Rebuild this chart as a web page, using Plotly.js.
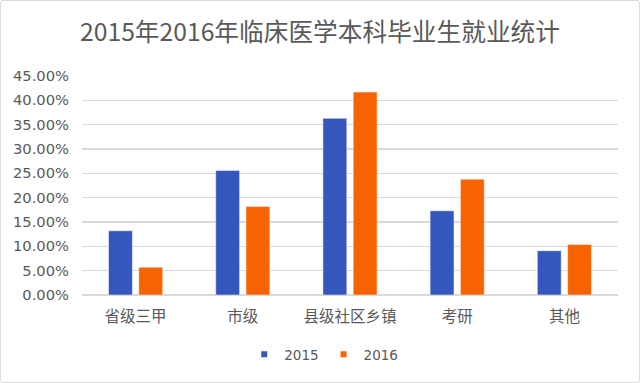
<!DOCTYPE html>
<html>
<head>
<meta charset="utf-8">
<script src="https://cdn.plot.ly/plotly-3.0.1.min.js"></script>
<style>
html,body{margin:0;padding:0;background:#fff;}
#wrap{position:relative;width:640px;height:383px;}
#chart{width:640px;height:383px;}
#frame{position:absolute;left:0;top:0;width:638px;height:381px;border:1px solid #dcdcdc;border-radius:3px;pointer-events:none;}
</style>
</head>
<body>
<div id="wrap"><div id="chart"></div><div id="frame"></div></div>
<script>
const categories = ["省级三甲", "市级", "县级社区乡镇", "考研", "其他"];
const seriesNames = ["2015", "2016"];
const values2015 = [0.132, 0.256, 0.363, 0.173, 0.091];
const values2016 = [0.057, 0.182, 0.417, 0.238, 0.104];
const colors = ["#3557BD", "#F76300"];
const titleText = "2015年2016年临床医学本科毕业生就业统计";

const font = '"Noto Sans CJK SC", "Noto Sans", sans-serif';
const numFont = '"DejaVu Sans", sans-serif';
const traces = [
  {type: "bar", x: categories, y: values2015, name: seriesNames[0], marker: {color: colors[0], line: {color: "#ffffff", width: 0.5}}, showlegend: false, hoverinfo: "y"},
  {type: "bar", x: categories, y: values2016, name: seriesNames[1], marker: {color: colors[1], line: {color: "#ffffff", width: 0.5}}, showlegend: false, hoverinfo: "y"},
  {type: "scatter", mode: "markers", x: [null], y: [null], name: seriesNames[0], marker: {symbol: "square", size: 6, color: colors[0]}},
  {type: "scatter", mode: "markers", x: [null], y: [null], name: seriesNames[1], marker: {symbol: "square", size: 6, color: colors[1]}}
];
const layout = {
  width: 640, height: 383,
  margin: {l: 82, r: 22, t: 76, b: 88, pad: 0},
  paper_bgcolor: "#ffffff", plot_bgcolor: "#ffffff",
  font: {family: font, color: "#595959"},
  title: {text: titleText, font: {size: 24.7, color: "#595959", family: font}, x: 0.5, xanchor: "center", xref: "container", y: 0.915, yanchor: "middle", yref: "container"},
  barmode: "group", bargap: 0.435, bargroupgap: 0.21,
  xaxis: {type: "category", showgrid: false, zeroline: false, showline: false, ticks: "", tickfont: {size: 15.5, color: "#595959"}, ticklabelstandoff: 10, automargin: false},
  yaxis: {range: [0, 0.45], dtick: 0.05, tickformat: ".2%", showgrid: true, gridcolor: "#d9d9d9", gridwidth: 1.5, zeroline: true, zerolinecolor: "#d9d9d9", zerolinewidth: 1.5, showline: false, ticks: "", tickfont: {size: 14.7, color: "#595959", family: numFont}, ticklabelstandoff: 12, automargin: false},
  showlegend: true,
  legend: {orientation: "h", x: 0.451, xanchor: "center", y: -0.272, yanchor: "middle", font: {size: 13.5, color: "#595959", family: numFont}, itemwidth: 30, tracegroupgap: 0, bgcolor: "rgba(0,0,0,0)"}
};
Plotly.newPlot("chart", traces, layout, {displayModeBar: false, staticPlot: true});
</script>
</body>
</html>
